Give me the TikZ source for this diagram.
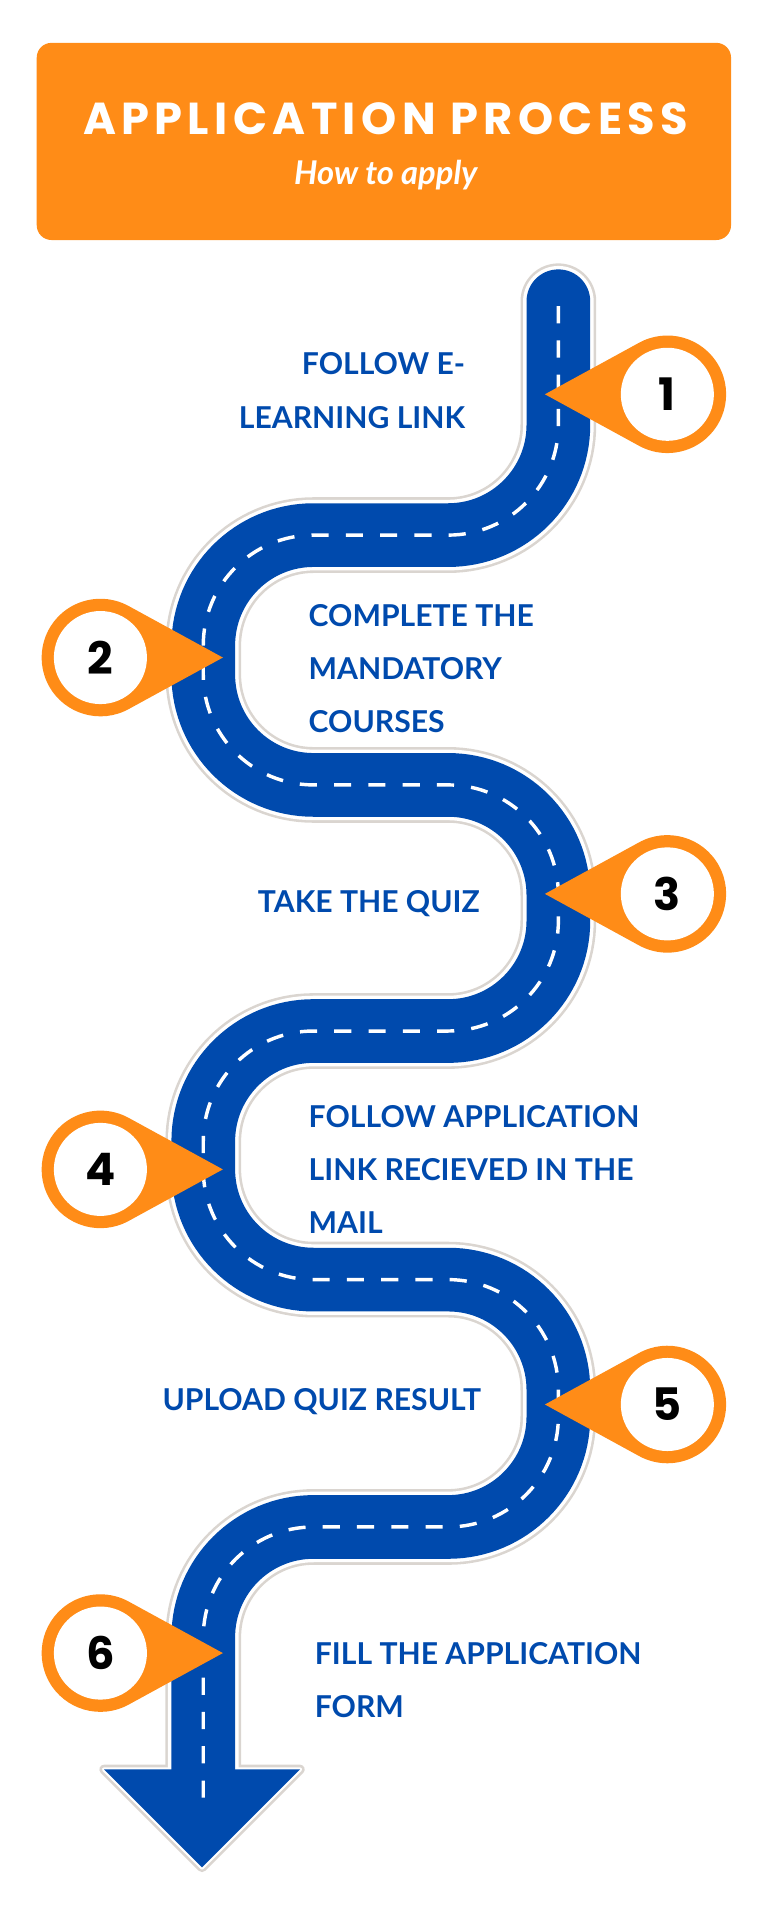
\documentclass[tikz,border=0pt]{standalone}
\usepackage{fontspec}
\setmainfont{Lato}
\newfontfamily\titlefont{Poppins}
\newfontfamily\spacedfont{Poppins}[LetterSpace=12]
\definecolor{pinorange}{HTML}{FF8C17}
\definecolor{roadblue}{HTML}{004AAD}
\definecolor{roadgray}{HTML}{DAD5D0}
\tikzset{
  steplabel/.style={text=roadblue,font=\fontsize{35}{62}\selectfont\bfseries,inner sep=0pt},
  pinnum/.style={font=\titlefont\fontsize{52}{52}\selectfont\bfseries,inner sep=0pt}
}
% pin: centre, direction of the tip, number, name
\newcommand\stoppin[4]{%
  \begin{scope}[shift={(#1)},rotate=#2]
    \fill[pinorange] (100,0) -- (61:48) arc[start angle=61,end angle=299,radius=48] -- cycle;
    \fill[white] (0,0) circle[radius=38];
  \end{scope}
  \node[pinnum] (#4) at (#1) {#3};}
\newcommand\roadpath{(456,246) -- (456,437) -- (166,437) -- (166,641) -- (456,641) -- (456,842) -- (166,842) -- (166,1045) -- (456,1045) -- (456,1247) -- (166,1247) -- (166,1445)}
\newcommand\headpath{(85,1445) -- (245,1445) -- (165,1525) -- cycle}
\begin{document}
\begin{tikzpicture}[x=0.05cm,y=-0.05cm]
\useasboundingbox (0,0) rectangle (626,1568);
% header
\fill[pinorange,rounded corners=0.6cm] (30,35) rectangle (597,196);
\node[text=white,font=\spacedfont\fontsize{52}{52}\selectfont\bfseries] (title) at (315,97) {APPLICATION PROCESS};
\node[text=white,font=\fontsize{38}{38}\selectfont\bfseries\itshape] (subtitle) at (315,143) {How to apply};
% road
\draw[roadgray,line width=88pt,rounded corners=4.5cm,line cap=round] \roadpath;
\draw[roadgray,line width=11pt,line join=round] \headpath;
\draw[white,line width=82pt,rounded corners=4.5cm,line cap=round] \roadpath;
\draw[white,line width=5pt,line join=round] \headpath;
\draw[roadblue,line width=74pt,rounded corners=4.5cm,line cap=round] \roadpath;
\fill[roadblue] \headpath;
\draw[white,line width=4pt,rounded corners=4.5cm,dash pattern=on 0.7cm off 0.7cm] (456,250) -- (456,437) -- (166,437) -- (166,641) -- (456,641) -- (456,842) -- (166,842) -- (166,1045) -- (456,1045) -- (456,1247) -- (166,1247) -- (166,1480);
% pins
\stoppin{545,322}{180}{1}{p1}
\stoppin{82,537}{0}{2}{p2}
\stoppin{545,730}{180}{3}{p3}
\stoppin{82,955}{0}{4}{p4}
\stoppin{545,1147}{180}{5}{p5}
\stoppin{82,1350}{0}{6}{p6}
% labels
\node[steplabel,align=right,anchor=east] (l1) at (380,319) {FOLLOW E-\\LEARNING LINK};
\node[steplabel,align=left,anchor=west] (l2) at (252,546) {COMPLETE THE\\MANDATORY\\COURSES};
\node[steplabel,anchor=east] (l3) at (392,738) {TAKE THE QUIZ};
\node[steplabel,align=left,anchor=west] (l4) at (252,955) {FOLLOW APPLICATION\\LINK RECIEVED IN THE\\MAIL};
\node[steplabel,anchor=east] (l5) at (393,1145) {UPLOAD QUIZ RESULT};
\node[steplabel,align=left,anchor=west] (l6) at (257,1372) {FILL THE APPLICATION\\FORM};
\end{tikzpicture}
\end{document}
